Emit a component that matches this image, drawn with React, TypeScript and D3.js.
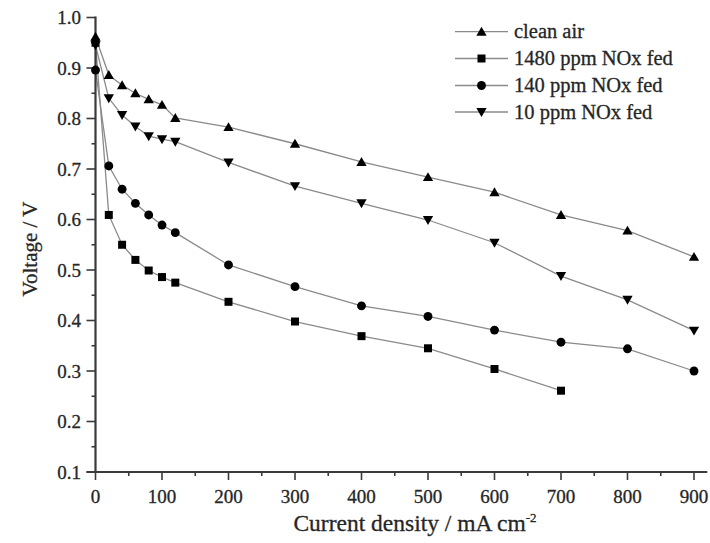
import React from "react";
import * as d3 from "d3";

// Current density (mA cm-2) sampled for each polarization curve
const currentFull = [0, 20, 40, 60, 80, 100, 120, 200, 300, 400, 500, 600, 700, 800, 900];
const current1480 = [0, 20, 40, 60, 80, 100, 120, 200, 300, 400, 500, 600, 700];

// Cell voltage (V) for each feed condition
const voltageCleanAir = [0.962, 0.886, 0.866, 0.85, 0.838, 0.827, 0.801, 0.783, 0.75, 0.714, 0.684, 0.654, 0.609, 0.578, 0.526];
const voltage1480 = [0.95, 0.609, 0.55, 0.52, 0.499, 0.486, 0.475, 0.437, 0.398, 0.369, 0.345, 0.304, 0.261];
const voltage140 = [0.896, 0.706, 0.66, 0.632, 0.609, 0.589, 0.574, 0.51, 0.467, 0.429, 0.408, 0.381, 0.357, 0.344, 0.3];
const voltage10 = [0.945, 0.84, 0.807, 0.784, 0.765, 0.759, 0.754, 0.713, 0.666, 0.632, 0.599, 0.554, 0.488, 0.441, 0.38];

const seriesNames = ["clean air", "1480 ppm NOx fed", "140 ppm NOx fed", "10 ppm NOx fed"];
const seriesShapes = ["up", "square", "circle", "down"];

const xTicks = [0, 100, 200, 300, 400, 500, 600, 700, 800, 900];
const yTicks = [0.1, 0.2, 0.3, 0.4, 0.5, 0.6, 0.7, 0.8, 0.9, 1.0];

const W = 710;
const H = 543;

const x = d3.scaleLinear().domain([0, 920]).range([95.5, 707.3]);
const y = d3.scaleLinear().domain([0.1, 1.0]).range([472, 17.5]);

const FONT = "'Liberation Serif', 'Times New Roman', serif";
const AXIS = "#3a3a3a";
const LINE = "#8a8a8a";
const TEXT = "#262626";

const symbolPath = (shape: string) => {
  if (shape === "square") return d3.symbol(d3.symbolSquare, 64)()!;
  if (shape === "circle") return d3.symbol(d3.symbolCircle, 62)()!;
  return d3.symbol(d3.symbolTriangle, 46)()!;
};

function Marker({ shape, cx, cy }: { shape: string; cx: number; cy: number }) {
  const rot = shape === "down" ? " rotate(180)" : "";
  const dy = shape === "up" ? 1 : shape === "down" ? -1 : 0;
  return (
    <path
      d={symbolPath(shape)}
      transform={`translate(${cx},${cy + dy})${rot}`}
      fill="#000"
    />
  );
}

export default function App() {
  const series = [
    { xs: currentFull, ys: voltageCleanAir },
    { xs: current1480, ys: voltage1480 },
    { xs: currentFull, ys: voltage140 },
    { xs: currentFull, ys: voltage10 },
  ];

  const line = d3
    .line<[number, number]>()
    .x((d) => x(d[0]))
    .y((d) => y(d[1]));

  const xMinor = d3.range(50, 920, 100);
  const yMinor = d3.range(0.15, 1.0, 0.1);

  const legendY = [31.7, 58.5, 85.5, 112];

  return (
    <svg
      width={W}
      height={H}
      style={{ position: "absolute", left: 0, top: 0, background: "#fff" }}
      fontFamily={FONT}
    >
      <rect width={W} height={H} fill="#fff" />

      {/* curves */}
      {series.map((s, i) => {
        const pts = s.xs.map((v, j) => [v, s.ys[j]] as [number, number]);
        return (
          <path key={i} d={line(pts)!} fill="none" stroke={LINE} strokeWidth={1.3} />
        );
      })}

      {/* axes */}
      <g>
        <line x1={x(0)} x2={x(0)} y1={y(0.1)} y2={y(1.0) - 1} stroke={AXIS} strokeWidth={2.2} />
        <line x1={x(0) - 9} x2={x(920)} y1={y(0.1)} y2={y(0.1)} stroke={AXIS} strokeWidth={2.2} />
        {yTicks.map((t) => (
          <g key={"yt" + t}>
            <line x1={x(0) - 9} x2={x(0)} y1={y(t)} y2={y(t)} stroke={AXIS} strokeWidth={1.6} />
            <text
              x={81}
              y={y(t)}
              dy="0.35em"
              textAnchor="end"
              fontSize={19}
              fill={TEXT}
              stroke={TEXT}
              strokeWidth={0.3}
            >
              {t.toFixed(1)}
            </text>
          </g>
        ))}
        {yMinor.map((t) => (
          <line key={"ym" + t} x1={x(0) - 4} x2={x(0)} y1={y(t)} y2={y(t)} stroke={AXIS} strokeWidth={1.6} />
        ))}
        {xTicks.map((t) => (
          <g key={"xt" + t}>
            <line x1={x(t)} x2={x(t)} y1={y(0.1)} y2={y(0.1) + 8} stroke={AXIS} strokeWidth={1.6} />
            <text
              x={x(t)}
              y={503}
              textAnchor="middle"
              fontSize={19}
              fill={TEXT}
              stroke={TEXT}
              strokeWidth={0.3}
            >
              {t}
            </text>
          </g>
        ))}
        {xMinor.map((t) => (
          <line key={"xm" + t} x1={x(t)} x2={x(t)} y1={y(0.1)} y2={y(0.1) + 4} stroke={AXIS} strokeWidth={1.6} />
        ))}
      </g>

      {/* axis titles */}
      <text
        x={415}
        y={531}
        textAnchor="middle"
        fontSize={23.5}
        fill={TEXT}
        stroke={TEXT}
        strokeWidth={0.3}
      >
        Current density / mA cm
        <tspan fontSize={13} dy={-9}>-2</tspan>
      </text>
      <text
        transform="translate(37,249) rotate(-90)"
        textAnchor="middle"
        fontSize={21}
        fill={TEXT}
        stroke={TEXT}
        strokeWidth={0.3}
      >
        Voltage / V
      </text>

      {/* markers */}
      {series.map((s, i) => (
        <g key={"m" + i}>
          {s.xs.map((v, j) => (
            <Marker key={j} shape={seriesShapes[i]} cx={x(v)} cy={y(s.ys[j])} />
          ))}
        </g>
      ))}

      {/* legend */}
      {seriesNames.map((name, i) => (
        <g key={"lg" + i}>
          <line x1={455} x2={508} y1={legendY[i]} y2={legendY[i]} stroke={LINE} strokeWidth={1.3} />
          <Marker shape={seriesShapes[i]} cx={481.5} cy={legendY[i]} />
          <text
            x={514}
            y={legendY[i]}
            dy="0.33em"
            fontSize={20.5}
            fill={TEXT}
            stroke={TEXT}
            strokeWidth={0.3}
          >
            {name}
          </text>
        </g>
      ))}
    </svg>
  );
}
